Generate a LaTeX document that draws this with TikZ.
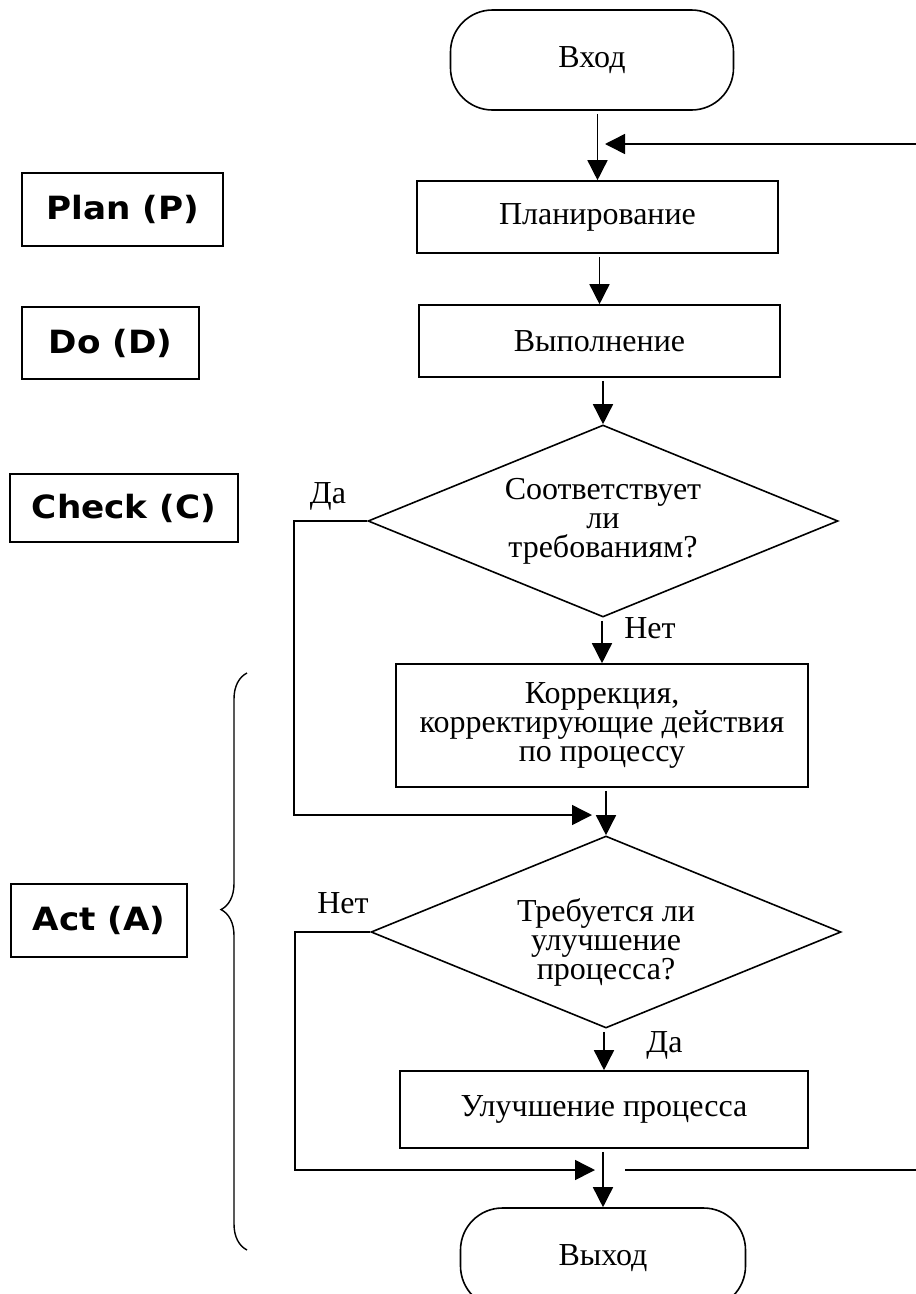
\documentclass[tikz,border=0pt]{standalone}
\usepackage{fontspec}
\setmainfont{Liberation Serif}
\newfontfamily\phasefont{DejaVu Sans}[FakeStretch=1.07]
\usetikzlibrary{arrows.meta,positioning,calc,shapes.geometric,decorations.pathreplacing}
\tikzset{main base/.style={draw,line width=1.6pt,text centered,inner sep=0pt,
    font=\fontsize{32}{29}\selectfont}, }
\tikzset{start-end/.style={rectangle,rounded corners=42pt,main base,
    minimum width=283pt,minimum height=100pt}, }
\tikzset{operation/.style={rectangle,main base,align=center}, }
\tikzset{decision/.style={diamond,aspect=#1,main base,align=center,
    minimum width=470pt,minimum height=192pt}, decision/.default=2.45}
\tikzset{phase/.style={rectangle,draw,line width=1.6pt,inner sep=0pt,
    font=\phasefont\bfseries\fontsize{32}{36}\selectfont}, }
\tikzset{answer/.style={anchor=base,font=\fontsize{32}{29}\selectfont}, }
\tikzset{freccia/.style={-{Triangle[length=20pt,width=20pt]},line width=1.5pt,draw}}
\tikzset{tratto/.style={line width=1.5pt,draw}}

\begin{document}
\begin{tikzpicture}[x=1pt,y=-1pt]
  \useasboundingbox (0,0) rectangle (916,1294);
  % flowchart
  \node[start-end] (1) at (592,60) {Вход};
  \node[operation,minimum width=361pt,minimum height=72pt] (2) at (597.5,217) {Планирование};
  \node[operation,minimum width=361pt,minimum height=72pt] (3) at (599.5,341) {Выполнение};
  \node[decision] (4) at (603,521) {Соответствует\\ли\\требованиям?};
  \node[operation,minimum width=412pt,minimum height=123pt] (5) at (602,725.5)
    {Коррекция,\\корректирующие действия\\по процессу};
  \node[decision] (6) at (606,932) {\rule{0pt}{44pt}Требуется ли\\улучшение\\процесса?};
  \node[operation,minimum width=408pt,minimum height=77pt] (7) at (604,1109.5) {Улучшение процесса};
  \node[start-end,minimum width=285pt] (8) at (603,1258) {Выход};
  %
  \node[answer] (da1) at (328,503) {Да};
  \node[answer] (net1) at (650,638) {Нет};
  \node[answer] (net2) at (343,913) {Нет};
  \node[answer] (da2) at (664.5,1052) {Да};
  % PDCA
  \node[phase,minimum width=201pt,minimum height=73pt] (p) at (122.5,209.5) {Plan (P)};
  \node[phase,minimum width=177pt,minimum height=72pt] (d) at (110.5,343) {Do (D)};
  \node[phase,minimum width=228pt,minimum height=68pt] (c) at (124,508) {Check (C)};
  \node[phase,minimum width=176pt,minimum height=73pt] (a) at (99,920.5) {Act (A)};
  %
  \coordinate (j1) at (592,815);
  \coordinate (j2) at (595,1170);
  \coordinate (r1) at (625,1170);
  \coordinate (r2) at (916,1170);
  \coordinate (r3) at (916,144);
  \coordinate (r4) at (605,144);
\foreach \x /\y in{1/2,2/3,3/4,4/5,5/6,6/7,7/8}
  \draw[freccia,shorten <=3pt] (\x.south -| \y.north) -- (\y.north);
  \draw[freccia] (4.west) -- ++(-73,0) |- (j1);
  \draw[freccia] (6.west) -- ++(-75,0) |- (j2);
  \draw[tratto] (r1) -- (r2);
  \draw[freccia] (r3) -- (r4);
  \draw[line width=1.4pt,decorate,decoration={brace,amplitude=26pt,aspect=0.41,mirror}]
    (247,673) -- (247,1250);
%
\end{tikzpicture}
\end{document}
